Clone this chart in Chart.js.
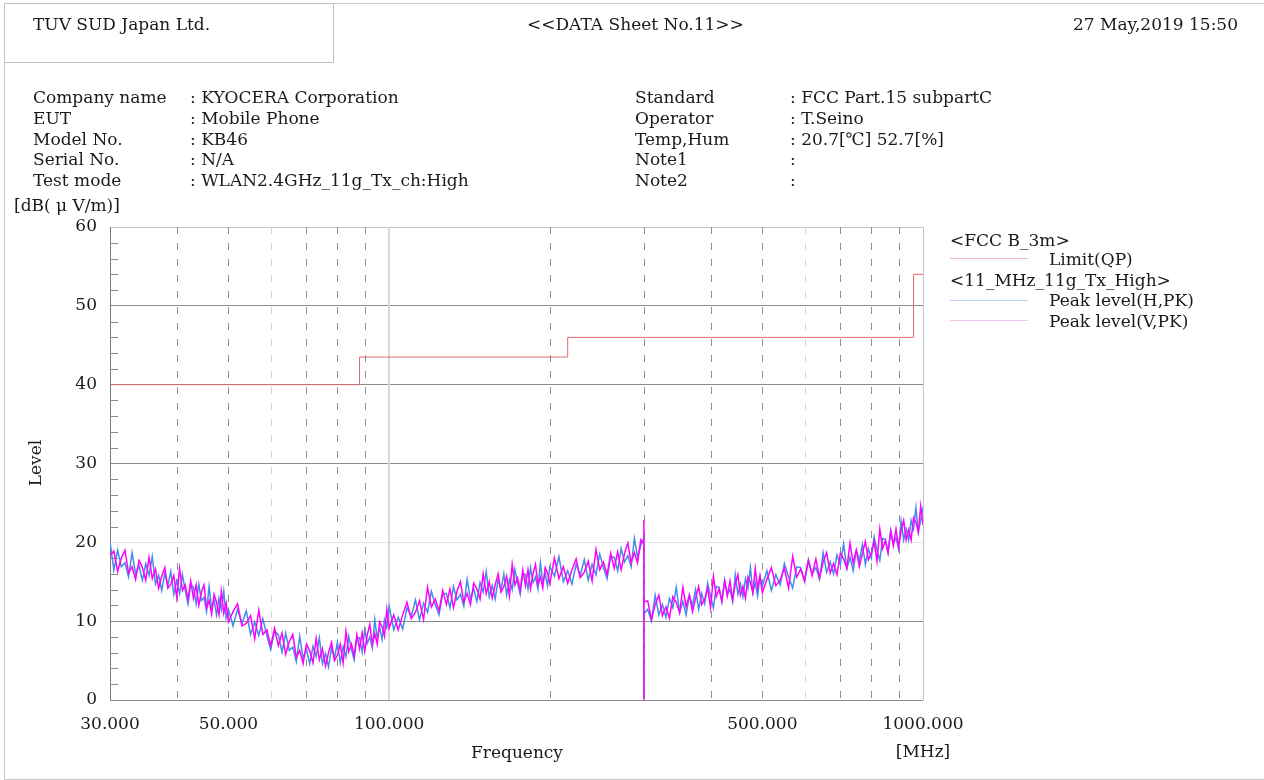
<!DOCTYPE html>
<html lang="en">
<head>
    <meta charset="UTF-8">
    <script src="https://cdn.jsdelivr.net/npm/chart.js"></script>
    <title>DATA Sheet No.11</title>
    <style>
        body { margin: 0; background: #fff; }
        .page { position: relative; width: 1264px; height: 780px; overflow: hidden; font-family: "DejaVu Serif", serif; color: #1a1a1a; font-size: 17px; }
        .page canvas { position: absolute; left: 0; top: 0; }
        .frame { position: absolute; left: 4px; top: 3px; width: 1270px; height: 775px; border: 1px solid #c8c8c8; }
        .logo-box { position: absolute; left: 4px; top: 3px; width: 328px; height: 58px; border: 1px solid #c0c0c0; }
        .t { position: absolute; white-space: pre; line-height: 22px; }
        .info { position: absolute; line-height: 20.75px; white-space: pre; }
        .swatch { position: absolute; left: 950px; width: 78px; height: 1px; }
    </style>
</head>
<body>
<div class="page">
    <canvas id="emiChart" width="1264" height="780"></canvas>
    <div class="frame"></div>
    <div class="logo-box"></div>

    <div class="t" style="left:33px; top:13px;">TUV SUD Japan Ltd.</div>
    <div class="t" style="left:527px; top:13px;">&lt;&lt;DATA Sheet No.11&gt;&gt;</div>
    <div class="t" style="right:26px; top:13px;">27 May,2019 15:50</div>

    <div class="info" style="left:33px; top:87px;">Company name<br>EUT<br>Model No.<br>Serial No.<br>Test mode</div>
    <div class="info" style="left:190px; top:87px;">: KYOCERA Corporation<br>: Mobile Phone<br>: KB46<br>: N/A<br>: WLAN2.4GHz_11g_Tx_ch:High</div>
    <div class="info" style="left:635px; top:87px;">Standard<br>Operator<br>Temp,Hum<br>Note1<br>Note2</div>
    <div class="info" style="left:790px; top:87px;">: FCC Part.15 subpartC<br>: T.Seino<br>: 20.7[℃] 52.7[%]<br>:<br>:</div>

    <div class="t" style="left:14px; top:194px;">[dB( μ V/m)]</div>
    <div class="t" style="left:10px; top:452px; width:50px; text-align:center; transform: rotate(-90deg);">Level</div>
    <div class="t" style="left:417px; top:741px; width:200px; text-align:center;">Frequency</div>
    <div class="t" style="left:873px; top:740px; width:100px; text-align:center;">[MHz]</div>

    <div class="t" style="left:950px; top:229px;">&lt;FCC B_3m&gt;</div>
    <div class="swatch" style="top:258px; background:#f2b8b8;"></div>
    <div class="t" style="left:1049px; top:248px;">Limit(QP)</div>
    <div class="t" style="left:950px; top:269px;">&lt;11_MHz_11g_Tx_High&gt;</div>
    <div class="swatch" style="top:300px; background:#b8d4f0;"></div>
    <div class="t" style="left:1049px; top:289px;">Peak level(H,PK)</div>
    <div class="swatch" style="top:320px; background:#f4c4ec;"></div>
    <div class="t" style="left:1049px; top:310px;">Peak level(V,PK)</div>
</div>

<script>
// axis ticks
const xTickValues = [30, 50, 100, 500, 1000];
const gridFreqs = [40, 50, 60, 70, 80, 90, 200, 300, 400, 500, 600, 700, 800, 900];
const lightGridFreqs = [60, 600];

// FCC class B 3m limit (QP), step points
const limitFreq = [30, 88, 216, 960, 1000];
const limitLevel = [40, 43.5, 46, 54, 54];

// first sweep 30 - 300 MHz
const scan1Freq = [30,30.5,31,31.5,32,32.5,33,33.5,34,34.5,35,35.5,36,36.5,37,37.5,38,38.5,39,39.5,
    40,40.5,41,41.5,42,42.5,43,43.5,44,44.5,45,45.5,46,46.5,47,47.5,48,48.5,49,49.5,
    50,51,52,53,54,55,56,57,58,59,60,61,62,63,64,65,66,67,68,69,70,71,72,73,74,75,76,77,78,79,
    80,81,82,83,84,85,86,87,88,89,90,91,92,93,94,95,96,97,98,99,
    100,102,104,106,108,110,112,114,116,118,120,122,124,126,128,130,132,134,136,138,
    140,142,144,146,148,150,152,154,156,158,160,162,164,166,168,170,172,174,176,178,
    180,182,184,186,188,190,192,194,196,198,
    200,204,208,212,216,220,224,228,232,236,240,244,248,252,256,260,264,268,272,276,280,284,288,292,296,300];
const scan1H = [20.1,16.5,19.0,16.9,17.4,15.6,18.7,16.0,17.0,15.2,
    17.3,15.8,18.2,14.7,15.8,13.9,16.1,14.5,16.3,13.4,
    15.1,13.5,15.9,13.9,12.2,14.7,14.3,12.2,14.7,12.6,
    13.0,11.2,14.4,11.6,12.7,10.8,12.9,11.5,13.8,10.4,
    11.5,9.4,11.5,9.7,11.3,8.3,9.9,8.2,10.3,8.2,
    6.4,8.7,8.3,6.1,8.5,6.3,6.7,4.9,8.1,5.3,
    6.4,4.6,6.8,5.5,7.9,4.6,5.9,4.2,6.6,5.3,
    7.3,4.7,6.8,5.5,8.1,6.4,5.1,7.9,7.9,6.1,
    8.9,7.2,8.0,6.6,10.2,7.8,9.2,7.7,10.2,9.2,
    11.9,8.9,10.5,9.0,11.7,10.6,12.7,10.2,12.3,11.1,
    13.8,12.1,10.8,13.5,13.5,11.7,14.4,12.7,13.4,11.9,
    15.3,12.8,14.1,12.5,14.9,13.7,16.3,13.1,14.5,12.8,
    15.3,14.0,16.0,13.3,15.3,14.0,16.6,14.8,13.4,16.1,
    15.9,14.1,16.8,14.9,15.6,14.1,17.4,14.9,16.1,14.5,
    16.9,15.7,18.2,15.0,16.4,14.7,17.2,15.8,17.8,15.2,
    17.2,15.9,18.5,16.8,15.4,18.2,18.1,16.4,19.2,17.5,
    18.3,16.9,20.5,18.1,19.6,20.6];
const scan1V = [18.3,18.9,16.3,18.0,19.0,16.1,16.9,15.3,17.7,16.8,
    15.2,18.1,15.4,16.6,14.2,15.7,16.8,14.2,14.7,15.8,
    13.0,16.7,13.9,14.6,12.7,15.1,12.9,14.6,12.0,13.7,
    14.6,11.7,12.6,10.9,13.4,12.4,10.8,13.8,11.0,12.3,
    9.9,11.2,12.2,9.4,9.7,10.7,7.8,11.4,8.3,8.9,
    6.9,9.1,6.9,8.5,5.8,7.4,8.3,5.4,6.3,4.6,
    7.1,6.2,4.7,7.8,5.1,6.5,4.3,6.0,7.3,5.0,
    5.7,7.1,4.7,8.7,6.1,7.1,5.6,8.3,6.5,8.5,
    6.2,8.3,9.6,7.1,8.4,7.1,9.9,9.3,8.1,11.5,
    9.1,10.8,8.9,10.8,12.4,10.3,11.1,12.6,10.2,14.3,
    11.8,12.8,11.3,13.9,12.1,14.1,11.7,13.8,15.0,12.4,
    13.5,12.1,14.8,14.1,12.8,16.0,13.5,15.0,12.9,14.6,
    16.0,13.7,14.4,15.7,13.2,17.2,14.6,15.5,13.9,16.5,
    14.5,16.5,14.1,16.0,17.2,14.6,15.6,14.2,16.8,16.1,
    14.8,18.0,15.4,16.9,14.8,16.5,17.9,15.5,16.2,17.6,
    15.1,19.1,16.5,17.5,15.9,18.6,16.7,18.8,16.5,18.6,
    19.9,17.4,18.7,17.4,20.3,19.8];

// band change at 300 MHz
const jumpFreq = [300, 300];
const jumpH = [3.5, 0.3];
const jumpV = [22.8, 0.0];

// second sweep 300 - 1000 MHz
const scan2Freq = [300,305,310,315,320,325,330,335,340,345,350,355,360,365,370,375,380,385,390,395,
    400,405,410,415,420,425,430,435,440,445,450,455,460,465,470,475,480,485,490,495,
    500,510,520,530,540,550,560,570,580,590,600,610,620,630,640,650,660,670,680,690,
    700,710,720,730,740,750,760,770,780,790,800,810,820,830,840,850,860,870,880,890,
    900,910,920,930,940,950,960,970,980,990,1000];
const scan2H = [10.9,11.5,10.0,13.3,10.8,12.1,10.5,12.9,11.7,14.3,
    11.1,12.5,10.8,13.3,12.0,14.0,11.5,13.5,12.2,14.8,
    13.1,11.7,14.4,14.3,12.5,15.2,13.4,14.0,12.5,15.9,
    13.4,14.7,13.1,15.4,14.2,16.8,13.6,14.9,13.2,15.7,
    14.4,16.4,13.9,15.9,14.6,17.3,15.6,14.2,16.9,16.8,
    15.1,17.8,16.0,16.8,15.3,18.7,16.2,17.5,16.0,18.4,
    17.2,19.8,16.7,18.1,16.4,19.0,17.7,19.7,17.2,19.2,
    18.0,20.7,19.0,17.7,20.5,20.4,18.7,21.5,19.8,20.6,
    19.2,22.7,20.3,21.7,20.3,22.8,21.7,24.4,21.3,22.8,
    24.5];
const scan2V = [12.4,12.6,10.2,12.1,13.3,10.7,11.8,10.4,13.1,12.4,
    11.1,14.3,11.8,13.3,11.2,12.9,14.4,12.1,12.8,14.2,
    11.7,15.7,13.1,14.1,12.5,15.1,13.2,15.1,12.7,14.7,
    15.9,13.3,14.4,12.9,15.6,14.9,13.6,16.7,14.2,15.7,
    13.6,15.3,16.8,14.5,15.2,16.7,14.2,18.2,15.6,16.6,
    15.1,17.7,15.8,17.9,15.5,17.5,18.7,16.1,17.3,15.9,
    18.6,17.9,16.7,19.9,17.4,19.0,16.9,18.6,20.1,17.8,
    18.6,20.1,17.6,21.7,19.2,20.2,18.7,21.4,19.6,21.7,
    19.4,21.5,22.8,20.3,21.6,20.3,23.1,22.5,21.3,24.6,
    22.2];

function toPoints(freqs, levels) {
    return freqs.map((f, i) => ({ x: f, y: levels[i] }));
}

const hPoints = [...toPoints(scan1Freq, scan1H), ...toPoints(jumpFreq, jumpH), ...toPoints(scan2Freq, scan2H)];
const vPoints = [...toPoints(scan1Freq, scan1V), ...toPoints(jumpFreq, jumpV), ...toPoints(scan2Freq, scan2V)];
const limitPoints = toPoints(limitFreq, limitLevel);

// dashed frequency grid, minor level ticks, frame edges
const sheetGrid = {
    id: 'sheetGrid',
    beforeDatasetsDraw(chart) {
        const { ctx, chartArea: a, scales: { x, y } } = chart;
        ctx.save();
        ctx.lineWidth = 1;
        ctx.setLineDash([7, 9]);
        gridFreqs.forEach(f => {
            const px = Math.round(x.getPixelForValue(f)) + 0.5;
            ctx.strokeStyle = lightGridFreqs.includes(f) ? '#d6d6d6' : '#8f8f8f';
            ctx.beginPath();
            ctx.moveTo(px, a.top);
            ctx.lineTo(px, a.bottom);
            ctx.stroke();
        });
        ctx.setLineDash([]);
        // 100 MHz solid line
        const p100 = Math.round(x.getPixelForValue(100));
        ctx.strokeStyle = '#d8d8d8';
        ctx.lineWidth = 2;
        ctx.beginPath();
        ctx.moveTo(p100, a.top);
        ctx.lineTo(p100, a.bottom);
        ctx.stroke();
        // right edge
        ctx.lineWidth = 1;
        ctx.strokeStyle = '#c4c4c4';
        ctx.beginPath();
        ctx.moveTo(Math.round(a.right) + 0.5, a.top);
        ctx.lineTo(Math.round(a.right) + 0.5, a.bottom);
        ctx.stroke();
        // minor ticks every 2 dB
        ctx.strokeStyle = '#8a8a8a';
        for (let v = 2; v < 60; v += 2) {
            if (v % 10 === 0) continue;
            const py = Math.round(y.getPixelForValue(v)) + 0.5;
            ctx.beginPath();
            ctx.moveTo(a.left, py);
            ctx.lineTo(a.left + 8, py);
            ctx.stroke();
        }
        ctx.restore();
    }
};

const tickFont = { family: 'DejaVu Serif', size: 17 };

new Chart(document.getElementById('emiChart'), {
    type: 'line',
    data: {
        datasets: [
            {
                label: 'Limit(QP)',
                data: limitPoints,
                borderColor: '#e06a6a',
                borderWidth: 1,
                stepped: true,
                pointRadius: 0,
                order: 0
            },
            {
                label: 'Peak level(V,PK)',
                data: vPoints,
                borderColor: '#ff00ff',
                borderWidth: 1.5,
                pointRadius: 0,
                tension: 0,
                order: 1
            },
            {
                label: 'Peak level(H,PK)',
                data: hPoints,
                borderColor: '#3f8fe8',
                borderWidth: 1.5,
                pointRadius: 0,
                tension: 0,
                order: 2
            }
        ]
    },
    options: {
        responsive: false,
        devicePixelRatio: 1,
        animation: false,
        layout: { padding: { left: 0, right: 341, top: 227, bottom: 0 } },
        plugins: {
            legend: { display: false },
            tooltip: { enabled: false }
        },
        scales: {
            x: {
                type: 'logarithmic',
                min: 30,
                max: 1000,
                afterBuildTicks: scale => { scale.ticks = xTickValues.map(v => ({ value: v })); },
                afterFit: scale => { scale.height = 80; },
                ticks: {
                    autoSkip: false,
                    maxRotation: 0,
                    minRotation: 0,
                    padding: 6,
                    color: '#1a1a1a',
                    font: tickFont,
                    callback: value => Number(value).toFixed(3)
                },
                grid: { display: false },
                border: { display: false }
            },
            y: {
                min: 0,
                max: 60,
                afterFit: scale => { scale.width = 110; },
                ticks: {
                    stepSize: 10,
                    padding: 13,
                    color: '#1a1a1a',
                    font: tickFont
                },
                grid: {
                    drawTicks: false,
                    color: ctx => {
                        const v = ctx.tick.value;
                        if (v === 20) return '#e4e4e4';
                        if (v === 60) return '#c4c4c4';
                        return '#8c8c8c';
                    }
                },
                border: { color: '#7a7a7a' }
            }
        }
    },
    plugins: [sheetGrid]
});
</script>
</body>
</html>
